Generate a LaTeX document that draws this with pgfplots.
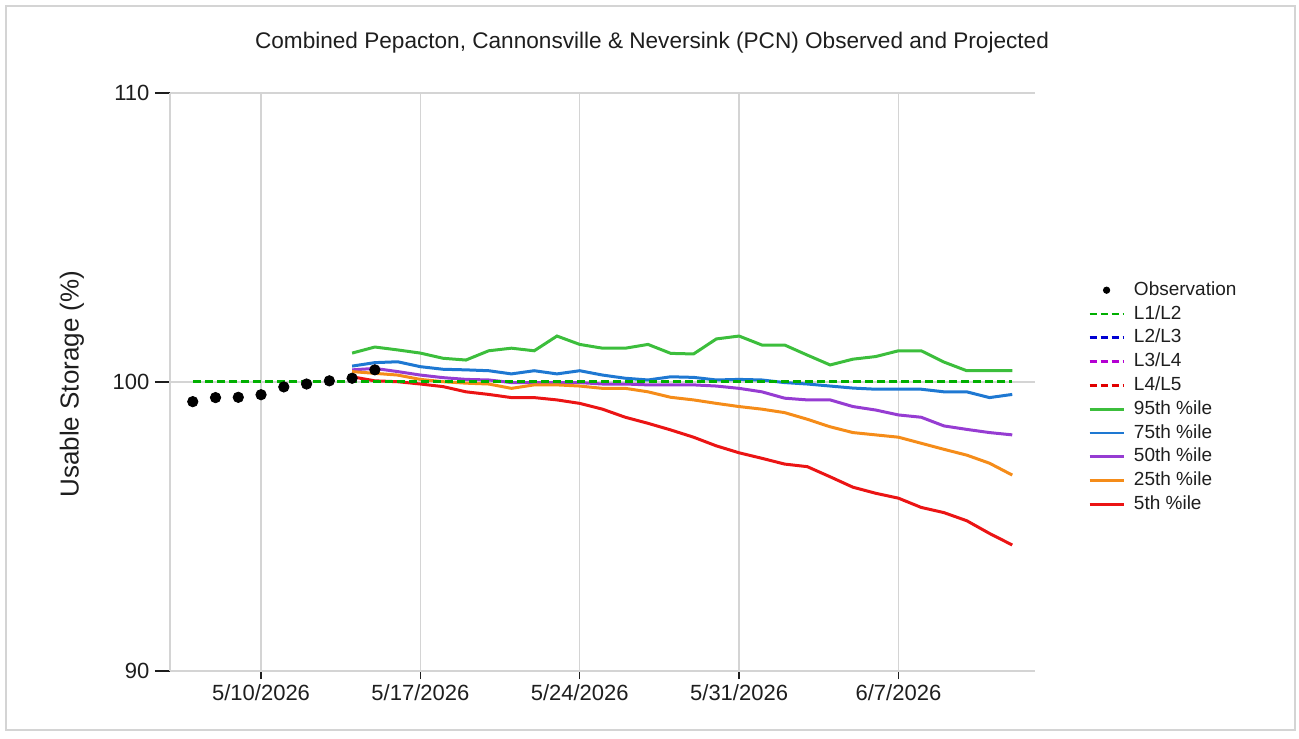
\documentclass[border=0pt]{standalone}
\usepackage{pgfplots}
\pgfplotsset{compat=1.18}
\usepackage{fontspec}
\setmainfont{Liberation Sans}
\definecolor{gridgray}{RGB}{212,212,212}
\definecolor{txt}{RGB}{30,30,30}
\definecolor{lgreen}{RGB}{0,175,0}
\definecolor{lblue}{RGB}{0,0,210}
\definecolor{lpurple}{RGB}{180,0,210}
\definecolor{lred}{RGB}{225,0,0}
\definecolor{pgreen}{RGB}{60,190,60}
\definecolor{pblue}{RGB}{30,120,210}
\definecolor{ppurple}{RGB}{150,60,210}
\definecolor{porange}{RGB}{245,140,25}
\definecolor{pred}{RGB}{235,20,20}
\begin{document}
\begin{tikzpicture}
\useasboundingbox (0,0) rectangle (649.5pt,369pt);
\draw[gridgray, line width=1pt] (3pt,4pt) rectangle (647.5pt,366pt);
\node[txt, font=\fontsize{11.3}{13}\selectfont] at (326pt,347.5pt) {Combined Pepacton, Cannonsville \& Neversink (PCN) Observed and Projected};
\begin{axis}[
  at={(85pt,33.5pt)}, anchor=south west,
  scale only axis, width=432.5pt, height=289pt,
  xmin=-4, xmax=34, ymin=90, ymax=110,
  xtick={0,7,14,21,28},
  xticklabels={5/10/2026,5/17/2026,5/24/2026,5/31/2026,6/7/2026},
  ytick={90,100,110},
  axis x line*=bottom, axis y line*=left,
  axis line style={gridgray, line width=0.8pt},
  grid=major, major grid style={gridgray, line width=0.6pt},
  tick align=outside,
  xtick style={txt, line width=0.6pt, /pgfplots/major tick length=4pt},
  ytick style={txt, line width=0.6pt, /pgfplots/major tick length=7.5pt},
  tick label style={txt, font=\fontsize{11}{13}\selectfont},
  /pgf/number format/assume math mode=true,
  yticklabel style={xshift=-2.5pt},
  xticklabel style={yshift=1pt},
  ylabel={Usable Storage (\%)},
  ylabel style={at={(axis description cs:-0.1133,0.4965)}, anchor=center, rotate=0, txt, font=\fontsize{13}{15}\selectfont},
  legend style={at={(axis description cs:1.054,0.687)}, anchor=north west, draw=none, fill=none,
    font=\fontsize{9.5}{11}\selectfont, text=txt, column sep=3pt,
    nodes={text height=7pt, text depth=2pt, inner sep=1.45pt, anchor=west}},
  legend cell align=left,
]
\addlegendimage{only marks, mark=*, mark size=1.6pt, black}
\addlegendentry{Observation}
\addlegendimage{lgreen, line width=1.4pt, dash pattern=on 3.5pt off 2pt}
\addlegendentry{L1/L2}
\addlegendimage{lblue, line width=1.4pt, dash pattern=on 3.5pt off 2pt}
\addlegendentry{L2/L3}
\addlegendimage{lpurple, line width=1.4pt, dash pattern=on 3.5pt off 2pt}
\addlegendentry{L3/L4}
\addlegendimage{lred, line width=1.4pt, dash pattern=on 3.5pt off 2pt}
\addlegendentry{L4/L5}
\addlegendimage{pgreen, line width=1.4pt}
\addlegendentry{95th \%ile}
\addlegendimage{pblue, line width=1.4pt}
\addlegendentry{75th \%ile}
\addlegendimage{ppurple, line width=1.4pt}
\addlegendentry{50th \%ile}
\addlegendimage{porange, line width=1.4pt}
\addlegendentry{25th \%ile}
\addlegendimage{pred, line width=1.4pt}
\addlegendentry{5th \%ile}

% 95th
\addplot[forget plot, pgreen, line width=1.5pt] coordinates {
(4,101.00)(5,101.21)(6,101.11)(7,101.00)(8,100.82)(9,100.76)(10,101.08)(11,101.17)(12,101.08)(13,101.59)
(14,101.30)(15,101.17)(16,101.17)(17,101.30)(18,100.99)(19,100.97)(20,101.49)(21,101.59)(22,101.28)(23,101.28)
(24,100.93)(25,100.59)(26,100.79)(27,100.88)(28,101.08)(29,101.08)(30,100.69)(31,100.39)(32,100.39)(33,100.39)};
% 75th
\addplot[forget plot, pblue, line width=1.5pt] coordinates {
(4,100.55)(5,100.67)(6,100.70)(7,100.53)(8,100.44)(9,100.42)(10,100.39)(11,100.28)(12,100.39)(13,100.28)
(14,100.39)(15,100.24)(16,100.13)(17,100.07)(18,100.18)(19,100.16)(20,100.07)(21,100.09)(22,100.07)(23,99.98)
(24,99.93)(25,99.86)(26,99.79)(27,99.75)(28,99.75)(29,99.75)(30,99.66)(31,99.66)(32,99.46)(33,99.57)};
% 50th
\addplot[forget plot, ppurple, line width=1.5pt] coordinates {
(4,100.42)(5,100.47)(6,100.36)(7,100.24)(8,100.15)(9,100.09)(10,100.07)(11,99.98)(12,99.98)(13,99.98)
(14,99.98)(15,99.93)(16,99.93)(17,99.90)(18,99.90)(19,99.90)(20,99.86)(21,99.78)(22,99.66)(23,99.44)
(24,99.38)(25,99.38)(26,99.15)(27,99.03)(28,98.86)(29,98.78)(30,98.48)(31,98.36)(32,98.25)(33,98.17)};
% 25th
\addplot[forget plot, porange, line width=1.5pt] coordinates {
(4,100.36)(5,100.30)(6,100.24)(7,100.09)(8,100.01)(9,99.96)(10,99.93)(11,99.78)(12,99.90)(13,99.90)
(14,99.86)(15,99.78)(16,99.78)(17,99.66)(18,99.47)(19,99.38)(20,99.26)(21,99.15)(22,99.06)(23,98.94)
(24,98.71)(25,98.45)(26,98.25)(27,98.17)(28,98.09)(29,97.88)(30,97.67)(31,97.47)(32,97.19)(33,96.78)};
% 5th
\addplot[forget plot, pred, line width=1.5pt] coordinates {
(4,100.18)(5,100.04)(6,100.01)(7,99.93)(8,99.84)(9,99.66)(10,99.57)(11,99.46)(12,99.46)(13,99.38)
(14,99.26)(15,99.06)(16,98.78)(17,98.57)(18,98.34)(19,98.09)(20,97.79)(21,97.55)(22,97.36)(23,97.16)
(24,97.07)(25,96.72)(26,96.36)(27,96.15)(28,95.98)(29,95.66)(30,95.48)(31,95.20)(32,94.76)(33,94.36)};
% L1/L2
\addplot[forget plot, lgreen, line width=1.5pt, dash pattern=on 4pt off 2pt] coordinates {(-3,100)(33,100)};
% Observations
\addplot[forget plot, only marks, mark=*, mark size=2.6pt, black] coordinates {
(-3,99.32)(-2,99.46)(-1,99.47)(0,99.56)(1,99.83)(2,99.93)(3,100.04)(4,100.13)(5,100.42)};
\end{axis}
\end{tikzpicture}
\end{document}
